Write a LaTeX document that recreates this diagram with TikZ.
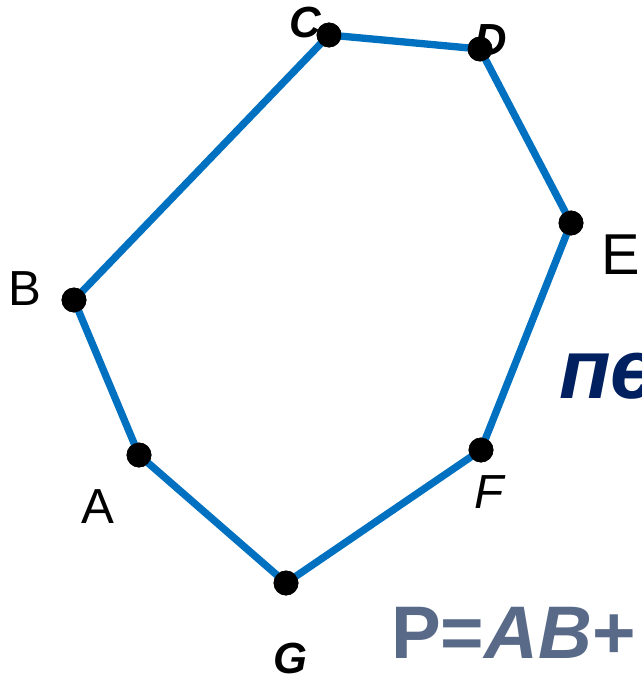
\documentclass[tikz,border=0pt]{standalone}
\usepackage{fontspec}
\setmainfont{Liberation Sans}
\definecolor{edgeblue}{RGB}{0,112,192}
\definecolor{navy}{RGB}{0,32,96}
\definecolor{slate}{RGB}{89,106,136}
\begin{document}
\begin{tikzpicture}[x=0.025cm,y=-0.025cm]

\tikzset{
  vertex/.style={
    circle,
    fill=black,
    minimum size=0.62cm,
    inner sep=0pt,
  },
  side/.style={
    draw=edgeblue,
    line width=5.2pt,
  },
  vlabel/.style={
    inner sep=0pt,
    anchor=base,
  }
}

\clip (0,0) rectangle (642,683);
\useasboundingbox (0,0) rectangle (642,683);

% Vertices
\node[vertex] (A) at (139,455) {};
\node[vertex] (B) at (74,300)  {};
\node[vertex] (C) at (329,35)  {};
\node[vertex] (D) at (480,49)  {};
\node[vertex] (E) at (571,223) {};
\node[vertex] (F) at (481,450) {};
\node[vertex] (G) at (286,583) {};

% Sides
\draw[side] (A.center) -- (B.center);
\draw[side] (B.center) -- (C.center);
\draw[side] (C.center) -- (D.center);
\draw[side] (D.center) -- (E.center);
\draw[side] (E.center) -- (F.center);
\draw[side] (F.center) -- (G.center);
\draw[side] (G.center) -- (A.center);

% Dots again, over the sides
\foreach \v in {A,B,C,D,E,F,G}
  \fill (\v) circle (0.31cm);

% Labels
\node[vlabel, font=\fontsize{35}{35}\selectfont] (labB) at (25,305) {B};
\node[vlabel, font=\fontsize{35}{35}\selectfont] (labA) at (98,523) {A};
\node[vlabel, font=\fontsize{41}{41}\selectfont] (labE) at (621,274) {E};
\node[vlabel, font=\fontsize{31}{31}\selectfont\bfseries\itshape] (labC) at (305,38) {C};
\node[vlabel, font=\fontsize{32}{32}\selectfont\bfseries\itshape] (labD) at (491,56) {D};
\node[vlabel, font=\fontsize{34}{34}\selectfont\itshape] (labF) at (489,508) {F};
\node[vlabel, font=\fontsize{31}{31}\selectfont\bfseries\itshape] (labG) at (290,673) {G};

% Cut-off text at the right
\node[inner sep=0pt, anchor=base west, text=navy,
  font=\fontsize{60}{60}\selectfont\bfseries\itshape] (word) at (559,398) {пе};
\node[inner sep=0pt, anchor=base west, text=slate,
  font=\fontsize{53}{53}\selectfont\bfseries] (perim) at (391,658) {P=\textit{AB}+};

\end{tikzpicture}
\end{document}
